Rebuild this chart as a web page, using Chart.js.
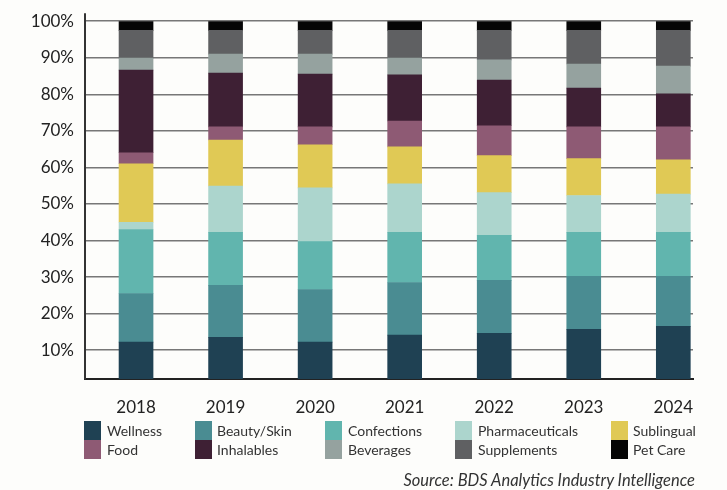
<!DOCTYPE html>
<html lang="en">
<head>
    <meta charset="UTF-8">
    <title>Product Category Share</title>
    <script src="https://cdn.jsdelivr.net/npm/chart.js"></script>
    <style>
        body { margin: 0; background: #fdfdfb; font-family: Lato, sans-serif; }
        .wrap { position: relative; width: 727px; height: 490px; }
        .legend-item { position: absolute; height: 19px; font-size: 14px; color: #333; line-height: 19px; white-space: nowrap; }
        .legend-item span { position: absolute; left: 0; top: 0; width: 17px; height: 19px; }
        .legend-item b { font-weight: normal; position: absolute; top: 0; }
        .source { position: absolute; right: 32px; top: 470px; font-size: 16.5px; font-style: italic; color: #333; }
    </style>
</head>
<body>
<div class="wrap">
    <canvas id="chart" width="727" height="490"></canvas>
    <div id="legend"></div>
    <div class="source">Source: BDS Analytics Industry Intelligence</div>
</div>
<script>
    const years = ['2018', '2019', '2020', '2021', '2022', '2023', '2024'];
    const yTicks = [10, 20, 30, 40, 50, 60, 70, 80, 90, 100];

    // share of each category per year (%)
    const wellness = [12.2, 13.5, 12.2, 14.1, 14.6, 15.7, 16.5];
    const beautySkin = [13.3, 14.2, 14.4, 14.4, 14.5, 14.5, 13.7];
    const confections = [17.5, 14.5, 13.1, 13.7, 12.3, 12.0, 12.0];
    const pharmaceuticals = [2.0, 12.7, 14.7, 13.3, 11.7, 10.1, 10.5];
    const sublingual = [16.0, 12.6, 11.8, 10.1, 10.1, 10.1, 9.4];
    const food = [3.0, 3.6, 4.9, 7.1, 8.2, 8.7, 9.0];
    const inhalables = [22.6, 14.7, 14.4, 12.6, 12.5, 10.6, 9.0];
    const beverages = [3.3, 5.2, 5.5, 4.6, 5.5, 6.6, 7.6];
    const supplements = [7.6, 6.5, 6.5, 7.6, 8.1, 9.2, 9.8];
    const petCare = [2.5, 2.5, 2.5, 2.5, 2.5, 2.5, 2.5];

    const series = [
        { label: 'Wellness', data: wellness, color: '#1f4153' },
        { label: 'Beauty/Skin', data: beautySkin, color: '#4a8c92' },
        { label: 'Confections', data: confections, color: '#61b5ae' },
        { label: 'Pharmaceuticals', data: pharmaceuticals, color: '#acd5cd' },
        { label: 'Sublingual', data: sublingual, color: '#e0c955' },
        { label: 'Food', data: food, color: '#8e5a74' },
        { label: 'Inhalables', data: inhalables, color: '#3e2034' },
        { label: 'Beverages', data: beverages, color: '#95a29f' },
        { label: 'Supplements', data: supplements, color: '#5f6062' },
        { label: 'Pet Care', data: petCare, color: '#050505' }
    ];

    // legend: 2 rows x 5 columns, in the same order as the reference
    const legendOrder = ['Wellness', 'Beauty/Skin', 'Confections', 'Pharmaceuticals', 'Sublingual',
                         'Food', 'Inhalables', 'Beverages', 'Supplements', 'Pet Care'];
    const colX = [84, 195, 325, 455, 611];
    const textOff = [23, 22, 23, 23, 22];
    const legend = document.getElementById('legend');
    legendOrder.forEach((name, i) => {
        const s = series.find(d => d.label === name);
        const col = i % 5, row = Math.floor(i / 5);
        const el = document.createElement('div');
        el.className = 'legend-item';
        el.style.left = colX[col] + 'px';
        el.style.top = (421 + row * 19) + 'px';
        el.innerHTML = '<span style="background:' + s.color + '"></span><b style="left:' + textOff[col] + 'px">' + name + '</b>';
        legend.appendChild(el);
    });

    // the y axis line pokes a little above the 100% gridline
    const axisStub = {
        id: 'axisStub',
        afterDraw(chart) {
            const c = chart.ctx, a = chart.chartArea;
            c.save();
            c.strokeStyle = '#333';
            c.lineWidth = 2;
            c.beginPath();
            c.moveTo(a.left, a.top - 8);
            c.lineTo(a.left, a.top);
            c.stroke();
            c.restore();
        }
    };

    const ctx = document.getElementById('chart').getContext('2d');
    new Chart(ctx, {
        type: 'bar',
        data: {
            datasets: series.map(s => ({
                label: s.label,
                data: s.data.map((v, i) => ({ x: i, y: v })),
                backgroundColor: s.color,
                borderWidth: 0,
                barThickness: 34
            }))
        },
        options: {
            responsive: false,
            animation: false,
            layout: { padding: { top: 20, right: 34, left: 0, bottom: 0 } },
            plugins: { legend: { display: false }, tooltip: { enabled: false } },
            scales: {
                x: {
                    type: 'linear',
                    stacked: true,
                    offset: false,
                    min: -0.57,
                    max: 6.22,
                    afterBuildTicks: axis => { axis.ticks = years.map((y, i) => ({ value: i })); },
                    afterFit: axis => { axis.height = 111; },
                    grid: { display: false },
                    border: { color: '#222', width: 2 },
                    ticks: {
                        padding: 10,
                        color: '#222',
                        font: { family: 'Lato', size: 17 },
                        callback: v => years[v]
                    }
                },
                y: {
                    stacked: true,
                    min: 2.1,
                    max: 100,
                    afterBuildTicks: axis => { axis.ticks = yTicks.map(v => ({ value: v })); },
                    afterFit: axis => { axis.width = 85; },
                    grid: { color: '#777', lineWidth: 1.5, drawTicks: false },
                    border: { color: '#333', width: 2 },
                    ticks: {
                        padding: 11,
                        color: '#222',
                        font: { family: 'Lato', size: 17 },
                        callback: v => v + '%'
                    }
                }
            }
        },
        plugins: [axisStub]
    });
</script>
</body>
</html>
